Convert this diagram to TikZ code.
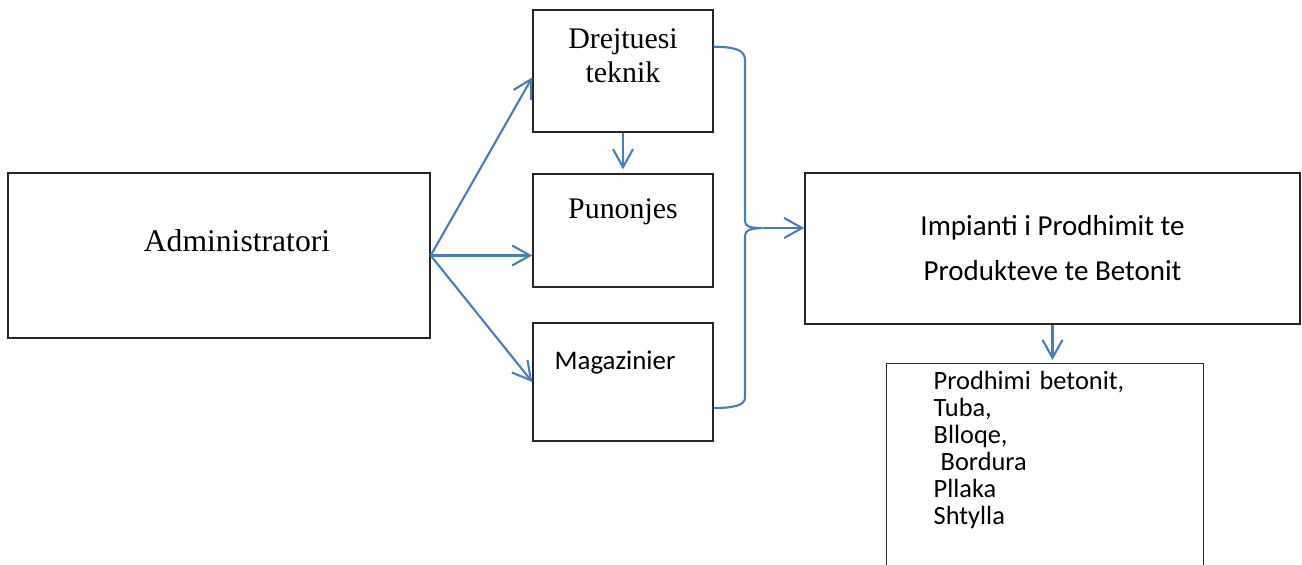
\documentclass[tikz,border=0pt]{standalone}
\usepackage{fontspec}
\setmainfont{Liberation Serif}
\newfontfamily\calibri{Carlito}
\usetikzlibrary{arrows.meta}
\tikzset{>={Straight Barb[length=3.6mm,width=4mm]}}
\definecolor{officeblue}{RGB}{74,126,187}

\begin{document}
\begin{tikzpicture}
          \tikzstyle{pbox} = [draw=black!85, line width=0.8pt, rectangle, inner sep=0pt, align=center]
          \tikzstyle{conn} = [draw=officeblue, line width=1.2pt]

          \clip (0,0) rectangle (26.04,-11.3);

          \node[pbox, minimum width=8.44cm, minimum height=3.3cm, text depth=0.6cm, font=\fontsize{18}{21}\selectfont] (admin) at (4.38,-5.11) {\hspace*{0.72cm}Administratori};
          \node[pbox, minimum width=3.6cm, minimum height=2.44cm, text depth=0.6cm, font=\fontsize{17}{19.4}\selectfont] (drej) at (12.46,-1.42) {Drejtuesi\\teknik};
          \node[pbox, minimum width=3.6cm, minimum height=2.26cm, text depth=0.88cm, font=\fontsize{17}{19.4}\selectfont] (pun) at (12.46,-4.61) {Punonjes};
          \node[pbox, minimum width=3.6cm, minimum height=2.36cm, text depth=0.88cm, font=\calibri\fontsize{15.3}{18}\selectfont] (mag) at (12.46,-7.64) {Magazinier\hspace*{0.32cm}};
          \node[pbox, minimum width=9.9cm, minimum height=3.02cm, font=\calibri\fontsize{16.5}{25.6}\selectfont] (imp) at (21.05,-4.97) {Impianti i Prodhimit te\\Produkteve te Betonit};
          \node[pbox, anchor=north west, align=left, minimum width=6.34cm, text width=4.46cm, inner xsep=0.94cm, inner ysep=0.15cm, text depth=4.3cm, font=\calibri\fontsize{15}{15.4}\selectfont] (list) at (17.72,-7.26) {Prodhimi betonit,\\Tuba,\\Blloqe,\\\hspace*{0.14cm}Bordura\\Pllaka\\Shtylla};

          \draw[conn,->] (admin.east) to (drej.184);
          \draw[conn,->] (admin.east) to (admin.east -| pun.west);
          \draw[conn,->] (admin.east) to (mag.west);
          \draw[conn,->,shorten >=0.08cm] (drej.south) to (pun.north);

          % brace joining the three boxes
          \coordinate (btip) at (15.25,-4.56);
          \draw[conn] (drej.15) .. controls (14.7,-0.94) and (14.9,-1.0) .. (14.9,-1.2) -- (14.9,-4.42)
            .. controls (14.9,-4.53) and (15.0,-4.56) .. (btip)
            .. controls (15.0,-4.57) and (14.9,-4.6) .. (14.9,-4.72) -- (14.9,-7.95)
            .. controls (14.9,-8.1) and (14.7,-8.16) .. (mag.344);
          \draw[conn,->] (btip) to (btip -| imp.west);
          \draw[conn,->,shorten >=0.06cm] (imp.south) to (imp.south |- list.north);
        \end{tikzpicture}
\end{document}
